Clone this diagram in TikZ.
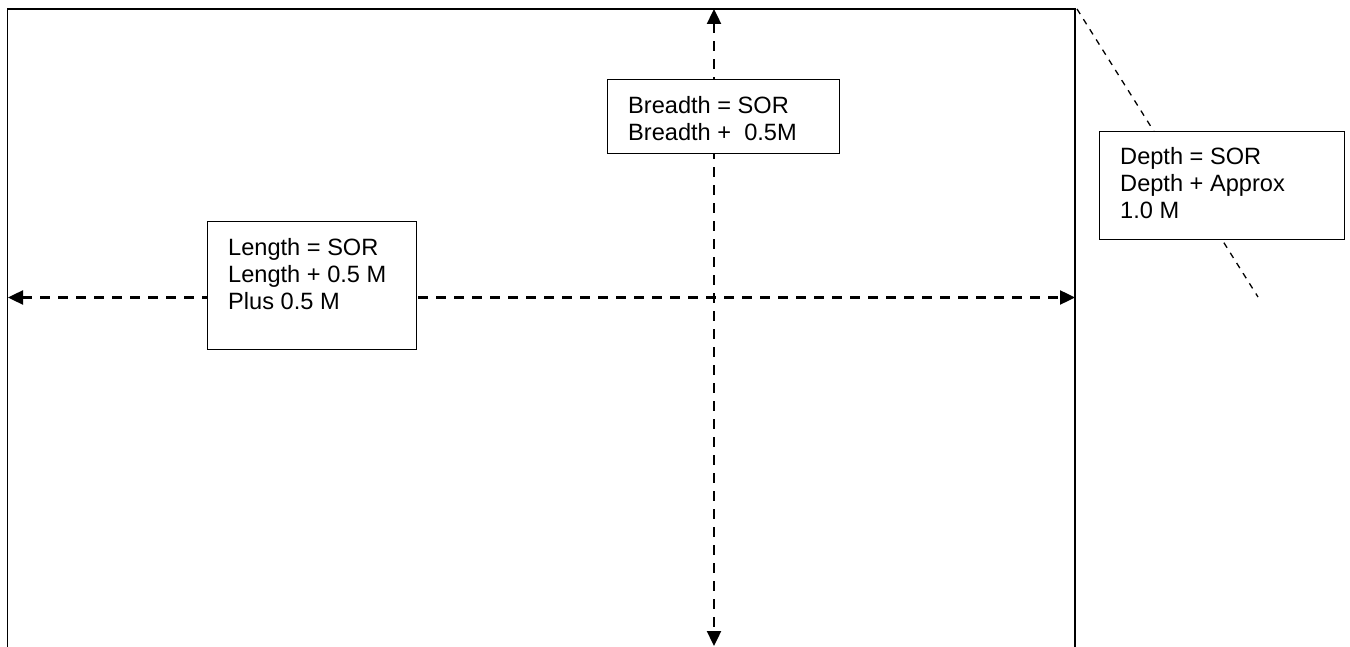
\documentclass[tikz,border=0pt]{standalone}
\usepackage{fontspec}
\setmainfont{Liberation Sans}
\usetikzlibrary{arrows.meta}
\begin{document}
\begin{tikzpicture}[x=1pt,y=1pt,
  frameline/.style={line width=1.5pt, line cap=rect},
  dimarrow/.style={line width=2.4pt, dash pattern=on 10pt off 8pt,
    {Triangle[length=15pt,width=14pt]}-{Triangle[length=15pt,width=14pt]}},
  thindash/.style={line width=1.3pt, dash pattern=on 6pt off 6pt},
  labelbox/.style={draw, line width=1.3pt, fill=white, inner sep=0pt, anchor=north west},
  labeltext/.style={anchor=north west, inner sep=0pt, align=left,
    font=\fontsize{23.6}{27}\selectfont}]
\useasboundingbox (0,0) rectangle (1350,646);
% frame (open at bottom)
\coordinate (fBL) at (7.5,0);
\coordinate (fTL) at (7.5,637);
\coordinate (fTR) at (1075,637);
\coordinate (fBR) at (1075,0);
\draw[frameline] (fBL) -- (fTL) -- (fTR) -- (fBR);
% dimension arrows
\coordinate (hL) at (8,348.5);
\coordinate (hR) at (1075,348.5);
\coordinate (vT) at (714,637);
\coordinate (vB) at (714,0);
\draw[dimarrow] (hL) -- (hR);
\draw[dimarrow] (vT) -- (vB);
% depth dashed diagonal
\coordinate (dA) at (1077,637);
\coordinate (dB) at (1258,349);
\draw[thindash] (dA) -- (dB);
% boxes
\node[labelbox, minimum width=209pt, minimum height=128pt] (lenbox) at (207,425) {};
\node[labelbox, minimum width=232pt, minimum height=74pt] (brbox) at (607,567) {};
\node[labelbox, minimum width=245pt, minimum height=108pt] (depbox) at (1099,515) {};
% texts
\node[labeltext] (lentext) at (228,408) {Length = SOR\\Length + 0.5 M\\Plus 0.5 M};
\node[labeltext] (brtext) at (628,550) {Breadth = SOR\\Breadth +\ \ 0.5M};
\node[labeltext] (deptext) at (1120,499) {Depth = SOR\\Depth + Approx\\1.0 M};
\end{tikzpicture}
\end{document}
